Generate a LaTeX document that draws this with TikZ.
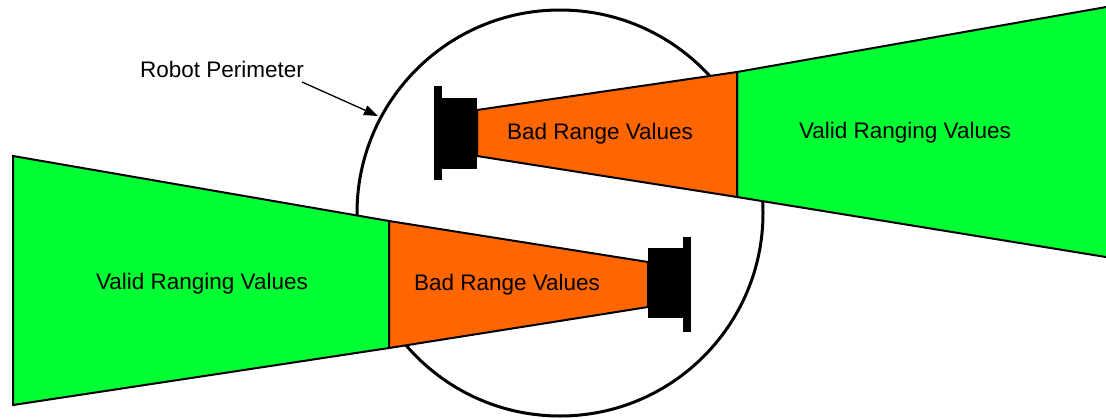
\documentclass[tikz,border=0pt]{standalone}
\usepackage{fontspec}
\setmainfont{Liberation Sans}
\usetikzlibrary{arrows.meta}
\definecolor{validgreen}{RGB}{0,255,51}
\definecolor{badorange}{RGB}{255,102,0}
\begin{document}
\begin{tikzpicture}[x=1pt,y=-1pt,
  beam/.style={draw=black,line width=2pt,line join=miter},
  validbeam/.style={beam,fill=validgreen},
  badbeam/.style={beam,fill=badorange},
  sensor/.style={fill=black,draw=none},
  lbl/.style={font=\fontsize{22.5}{26}\selectfont,inner sep=0pt,anchor=base,text=black},
  perimeter/.style={draw=black,line width=3pt}]
\useasboundingbox (0,0) rectangle (1106,418);
\clip (0,0) rectangle (1106,418);
% robot perimeter
\draw[perimeter] (560,213) circle[radius=203];
% lower beam (pointing left)
\draw[validbeam] (13,156) -- (389,221) -- (389,348) -- (13,405) -- cycle;
\draw[badbeam] (389,221) -- (648,262) -- (648,307) -- (389,348) -- cycle;
\fill[sensor] (648,248) rectangle (683,318);
\fill[sensor] (683,237) rectangle (691,332);
% upper beam (pointing right)
\draw[validbeam] (737,72) -- (1112,6) -- (1112,258) -- (737,197) -- cycle;
\draw[badbeam] (477,110) -- (737,72) -- (737,197) -- (477,156) -- cycle;
\fill[sensor] (442,98) rectangle (477,169);
\fill[sensor] (434,86) rectangle (442,180);
% labels
\node[lbl] (rp) at (222,77) {Robot Perimeter};
\node[lbl] (badup) at (600,139) {Bad Range Values};
\node[lbl] (validup) at (905,138) {Valid Ranging Values};
\node[lbl] (badlow) at (507,290) {Bad Range Values};
\node[lbl] (validlow) at (202,289) {Valid Ranging Values};
% pointer
\coordinate (rpstart) at (302,82);
\coordinate (rptip) at (378,116);
\draw[line width=1.3pt,-{Triangle[length=14pt,width=10pt]}] (rpstart) -- (rptip);
\end{tikzpicture}
\end{document}
